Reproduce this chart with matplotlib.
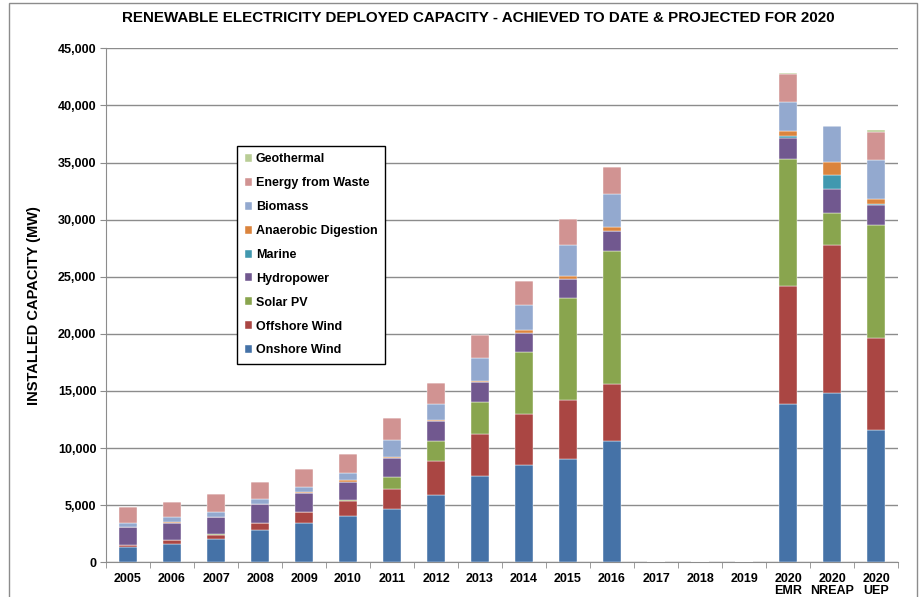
import numpy as np
import matplotlib
matplotlib.use("Agg")
import matplotlib.pyplot as plt
from matplotlib.patches import Rectangle

plt.rcParams['font.family'] = ['Liberation Sans', 'DejaVu Sans']

categories = ['2005', '2006', '2007', '2008', '2009', '2010', '2011', '2012', '2013',
              '2014', '2015', '2016', '2017', '2018', '2019',
              '2020\nEMR', '2020\nNREAP', '2020\nUEP']

# MW (2017-2019 empty)
onshore = [1370, 1640, 2020, 2870, 3420, 4060, 4630, 5870, 7515, 8480, 9060, 10640, 0, 0, 0, 13880, 14820, 11600]
offshore = [120, 320, 400, 550, 990, 1340, 1790, 3010, 3680, 4490, 5150, 5000, 0, 0, 0, 10310, 13000, 8070]
solar = [10, 10, 100, 20, 20, 90, 1010, 1750, 2870, 5420, 8920, 11610, 0, 0, 0, 11160, 2720, 9900]
hydro = [1550, 1510, 1460, 1650, 1630, 1580, 1720, 1700, 1700, 1700, 1700, 1780, 0, 0, 0, 1800, 2100, 1750]
marine = [0, 0, 0, 0, 0, 0, 0, 0, 0, 0, 0, 0, 0, 0, 0, 150, 1310, 80]
anaerobic = [20, 20, 20, 30, 60, 100, 100, 170, 120, 230, 260, 290, 0, 0, 0, 470, 1080, 420]
biomass = [350, 450, 380, 380, 500, 630, 1480, 1320, 1990, 2220, 2690, 2950, 0, 0, 0, 2550, 3190, 3370]
waste = [1380, 1340, 1580, 1490, 1550, 1670, 1870, 1870, 1990, 2050, 2310, 2370, 0, 0, 0, 2440, 0, 2480]
geothermal = [0, 0, 0, 0, 0, 0, 0, 0, 0, 0, 0, 0, 0, 0, 0, 110, 0, 150]

series = [
    ('Onshore Wind', onshore, '#4572A7'),
    ('Offshore Wind', offshore, '#AA4643'),
    ('Solar PV', solar, '#89A54E'),
    ('Hydropower', hydro, '#71588F'),
    ('Marine', marine, '#4198AF'),
    ('Anaerobic Digestion', anaerobic, '#DB843D'),
    ('Biomass', biomass, '#93A9CF'),
    ('Energy from Waste', waste, '#D19392'),
    ('Geothermal', geothermal, '#B9CD96'),
]

fig = plt.figure(figsize=(9.21, 5.97), dpi=100)
ax = fig.add_axes([0.1151, 0.0581, 0.86, 0.861])

x = np.arange(len(categories))
bottom = np.zeros(len(categories))
for name, vals, col in series:
    vals = np.array(vals, dtype=float)
    ax.bar(x, vals, 0.39, bottom=bottom, color=col, label=name,
           edgecolor='white', linewidth=0.3, zorder=3)
    bottom += vals

ax.set_xlim(-0.5, len(categories) - 0.5)
ax.set_ylim(0, 45000)
ax.set_yticks(np.arange(0, 45001, 5000))
ax.set_yticklabels([f'{v:,}' for v in range(0, 45001, 5000)], fontsize=9, fontweight='bold')
ax.yaxis.grid(True, color='#8c8c8c', linewidth=1, zorder=0)
ax.set_axisbelow(True)

ax.set_xticks(x)
ax.set_xticklabels(categories, fontsize=9, fontweight='bold', linespacing=1.0)
ax.set_xticks(np.arange(-0.5, len(categories)), minor=True)
ax.tick_params(axis='x', which='major', length=0, pad=8)
ax.tick_params(axis='x', which='minor', length=4, color='#8c8c8c', direction='out')
ax.tick_params(axis='y', length=4, color='#8c8c8c', direction='out', pad=3)

for s in ['top', 'right']:
    ax.spines[s].set_visible(False)
for s in ['left', 'bottom']:
    ax.spines[s].set_color('#8c8c8c')

ax.set_ylabel('INSTALLED CAPACITY (MW)', fontsize=10.5, fontweight='bold')
ax.yaxis.set_label_coords(-0.082, 0.5)
fig.text(0.519, 0.97, 'RENEWABLE ELECTRICITY DEPLOYED CAPACITY - ACHIEVED TO DATE & PROJECTED FOR 2020',
         ha='center', va='center', fontsize=10.9, fontweight='bold')

handles, labels = ax.get_legend_handles_labels()
leg = ax.legend(handles[::-1], labels[::-1], loc='upper left',
                bbox_to_anchor=(0.1654, 0.81), prop={'weight': 'bold', 'size': 9},
                handlelength=0.6, handleheight=0.6, handletextpad=0.3,
                labelspacing=0.95, borderpad=0.6, borderaxespad=0, fancybox=False, framealpha=1)
leg.get_frame().set_edgecolor('black')
leg.get_frame().set_linewidth(1)

# outer chart border
fig.patches.append(Rectangle((9 / 921, -0.05), 908 / 921, 1.045, transform=fig.transFigure,
                             fill=False, edgecolor='#8c8c8c', linewidth=1))

fig.savefig('out.png', dpi=100)
